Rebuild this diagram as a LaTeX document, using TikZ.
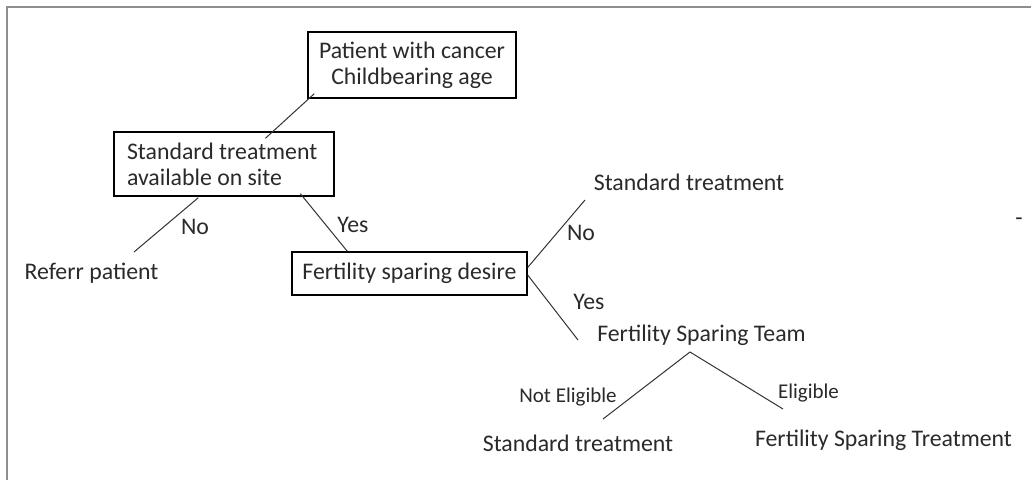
\documentclass[tikz,border=0pt]{standalone}
\usepackage{fontspec}
\setmainfont{Carlito}
\definecolor{txt}{HTML}{2A2A2A}
\definecolor{frame}{HTML}{8E8E8E}
\begin{document}
\begin{tikzpicture}[x=1pt,y=-1pt,
  every node/.style={text=txt,font=\fontsize{23.8}{26}\selectfont,inner sep=0pt},
  decision/.style={draw=black,line width=1.3pt,rectangle},
  leaf/.style={},
  lbl/.style={},
  small/.style={font=\fontsize{21}{23}\selectfont},
  conn/.style={draw=black!80,line width=1pt}]
\useasboundingbox (0,0) rectangle (1031,480);
\fill[white] (0,0) rectangle (1031,480);
% frame of the screenshot
\draw[frame,line width=2pt] (7,480) -- (7,7) -- (1031,7);

% nodes
\node[decision,minimum width=208,minimum height=66,align=center] (top) at (412,65) {Patient with cancer\\Childbearing age};
\node[decision,minimum width=220,minimum height=64,text width=194,inner xsep=13pt,align=flush left] (site) at (224,164) {Standard treatment\\available on site};
\node[decision,minimum width=235,minimum height=43] (desire) at (409.5,273.5) {Fertility sparing desire};
\node[leaf] (refer) at (91.5,273) {Referr patient};
\node[leaf] (std1) at (689,182) {Standard treatment};
\node[leaf] (team) at (701.5,335) {Fertility Sparing Team};
\node[leaf] (std2) at (578,443) {Standard treatment};
\node[leaf] (fst) at (883.5,440) {Fertility Sparing Treatment};

% labels
\node[lbl] (no1) at (195,227) {No};
\node[lbl] (yes1) at (353,225) {Yes};
\node[lbl] (no2) at (581,233) {No};
\node[lbl] (yes2) at (589,302) {Yes};
\node[lbl,small] (notel) at (568,397) {Not Eligible};
\node[lbl,small] (elig) at (808.5,393) {Eligible};
\node[lbl] (dash) at (1019,222) {-};

% connectors
\draw[conn] ([shift={(7,-5)}]top.south west) -- ([shift={(152,7)}]site.north west);
\draw[conn] ([shift={(85,1)}]site.south west) -- ([shift={(42.5,-21)}]refer.center);
\draw[conn] ([shift={(187,-3)}]site.south west) -- ([shift={(56,0)}]desire.north west);
\draw[conn] ([shift={(0,-6)}]desire.east) -- ([shift={(-104,18)}]std1.center);
\draw[conn] ([shift={(0,1.5)}]desire.east) -- ([shift={(-123.5,5)}]team.center);
\draw[conn] ([shift={(-11.5,17)}]team.center) -- ([shift={(25,-24)}]std2.center);
\draw[conn] ([shift={(-11.5,17)}]team.center) -- ([shift={(-100.5,-31)}]fst.center);
\end{tikzpicture}
\end{document}
